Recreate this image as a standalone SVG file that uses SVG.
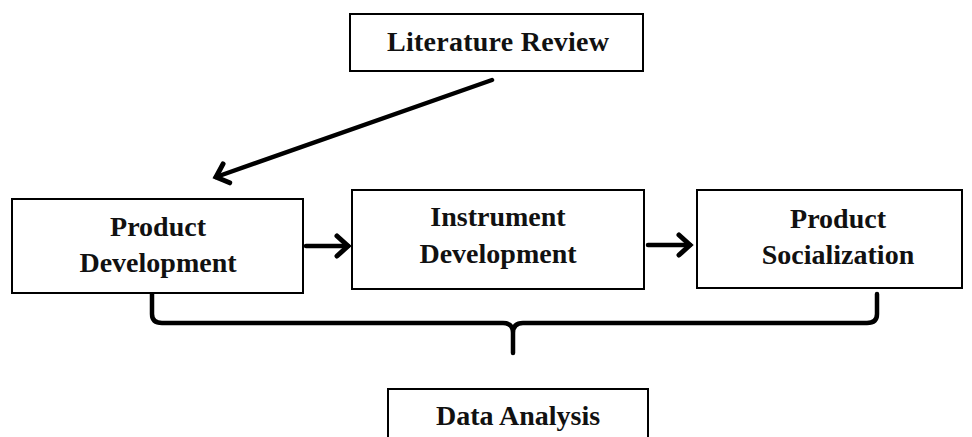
<svg xmlns="http://www.w3.org/2000/svg" width="972" height="437" viewBox="0 0 972 437">
<style>
.box{fill:#fff;stroke:#000;stroke-width:2}
.lbl{font-family:"Liberation Serif","Times New Roman",serif;font-weight:bold;font-size:28px;fill:#111;text-anchor:middle}
.conn{fill:none;stroke:#000;stroke-width:4.5;stroke-linecap:round;stroke-linejoin:round}
</style>
<defs>
<marker id="ah" markerUnits="userSpaceOnUse" markerWidth="26" markerHeight="26" refX="17" refY="13" orient="auto" viewBox="0 0 26 26">
<path d="M6,3 L17,13 L6,23" fill="none" stroke="#000" stroke-width="5" stroke-linecap="round" stroke-linejoin="miter"/>
</marker>
</defs>
<rect width="972" height="437" fill="#fff"/>
<g id="connectors">
<line class="conn" x1="492" y1="80" x2="216" y2="177" marker-end="url(#ah)"/>
<line class="conn" x1="306" y1="246" x2="348" y2="246" marker-end="url(#ah)"/>
<line class="conn" x1="648" y1="245" x2="690" y2="245" marker-end="url(#ah)"/>
<path class="conn" d="M152,294 L152,314 Q152,323 162,323 L503,323 Q513,323 513,333 L513,353 M513,333 Q513,323 523,323 L867,323 Q877,323 877,314 L877,294"/>
</g>
<g id="literature-review">
<rect class="box" x="350" y="14" width="293" height="57"/>
<text class="lbl" x="498" y="51" textLength="222" lengthAdjust="spacing">Literature Review</text>
</g>
<g id="product-development">
<rect class="box" x="12" y="199" width="291" height="94"/>
<text class="lbl" x="158" y="236">Product</text>
<text class="lbl" x="158" y="272">Development</text>
</g>
<g id="instrument-development">
<rect class="box" x="352" y="190" width="292" height="99"/>
<text class="lbl" x="498" y="226">Instrument</text>
<text class="lbl" x="498" y="263">Development</text>
</g>
<g id="product-socialization">
<rect class="box" x="697" y="190" width="265" height="98"/>
<text class="lbl" x="838" y="228">Product</text>
<text class="lbl" x="838" y="264">Socialization</text>
</g>
<g id="data-analysis">
<rect class="box" x="388" y="389" width="260" height="60"/>
<text class="lbl" x="518" y="425">Data Analysis</text>
</g>
</svg>
